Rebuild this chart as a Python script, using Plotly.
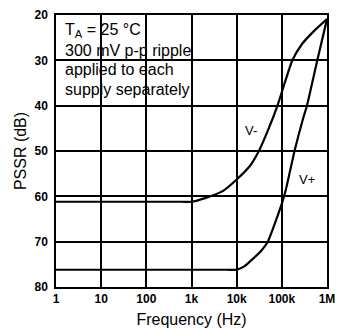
import math
import plotly.graph_objects as go

# Power-supply rejection ratio vs. frequency, one curve per supply rail
vminus_freq = [1, 600, 1000, 2000, 5000, 10000, 20000, 31000, 50000, 80000, 120000, 171000, 280000, 520000, 1000000]
vminus_pssr = [61.2, 61.2, 61.2, 60.4, 58.8, 56.3, 53.2, 50.0, 45.3, 40.0, 34.5, 30.0, 26.4, 23.5, 20.9]

vplus_freq = [1, 6000, 10000, 15000, 24000, 35000, 49000, 100000, 123000, 191000, 300000, 360000, 610000, 1000000]
vplus_pssr = [76.2, 76.2, 76.2, 75.4, 73.6, 72.0, 70.0, 61.6, 58.5, 50.0, 42.6, 40.0, 30.0, 20.9]

tick_vals = [1, 10, 100, 1000, 10000, 100000, 1000000]
tick_text = ["1", "10", "100", "1k", "10k", "100k", "1M"]

# Curve labels: (text, frequency, dB)
curve_labels = [("V-", 21000, 45.4), ("V+", 360000, 56.3)]

# Test-condition note, one entry per line: (text, top edge in pixels from the top of the figure)
note_lines = [
    ("T<sub>A</sub> = 25 °C", 16),
    ("300 mV p-p ripple", 37.5),
    ("applied to each", 56.5),
    ("supply separately", 77),
]

FONT = "Liberation Sans, Arial, Helvetica, sans-serif"
PLOT_TOP, PLOT_H = 12, 276

fig = go.Figure()
for f, p in [(vminus_freq, vminus_pssr), (vplus_freq, vplus_pssr)]:
    fig.add_trace(go.Scatter(
        x=f, y=p, mode="lines",
        line=dict(color="black", width=2.2, shape="spline", smoothing=0.5),
        showlegend=False, hoverinfo="skip",
    ))

# Blank panel behind the test-condition note
fig.add_shape(type="rect", xref="paper", yref="paper",
              x0=0, x1=4 / 6 - 0.004, y0=2 / 3 + 0.005, y1=1,
              fillcolor="white", line=dict(width=0), layer="between")

for txt, top_px in note_lines:
    fig.add_annotation(
        xref="paper", yref="paper", x=0.026, y=1 - (top_px - PLOT_TOP) / PLOT_H,
        xanchor="left", yanchor="top",
        align="left", showarrow=False, text=txt,
        font=dict(family=FONT, size=16, color="black"),
    )
for txt, f, p in curve_labels:
    fig.add_annotation(x=math.log10(f), y=p, text=txt, showarrow=False,
                       font=dict(family=FONT, size=13, color="black"))

axis_common = dict(
    showgrid=True, gridcolor="black", gridwidth=1.5,
    showline=True, linecolor="black", linewidth=1.5, mirror="allticks",
    ticks="inside", ticklen=4, tickcolor="black", tickwidth=1.2,
    zeroline=False,
    tickfont=dict(family=FONT, size=12, color="black", weight="bold"),
)

fig.update_xaxes(type="log", range=[0, 6], tickvals=tick_vals, ticktext=tick_text,
                 title=dict(text="Frequency (Hz)", font=dict(family=FONT, size=16, color="black"), standoff=9),
                 **axis_common)
fig.update_yaxes(range=[80, 20], dtick=10, tick0=20, ticklabelstandoff=4,
                 title=dict(text="PSSR (dB)", font=dict(family=FONT, size=16, color="black"), standoff=4),
                 **axis_common)

fig.update_layout(
    width=343, height=334,
    margin=dict(l=56, r=8, t=PLOT_TOP, b=334 - PLOT_TOP - PLOT_H),
    paper_bgcolor="white", plot_bgcolor="white",
)

fig.write_html("out.html")
